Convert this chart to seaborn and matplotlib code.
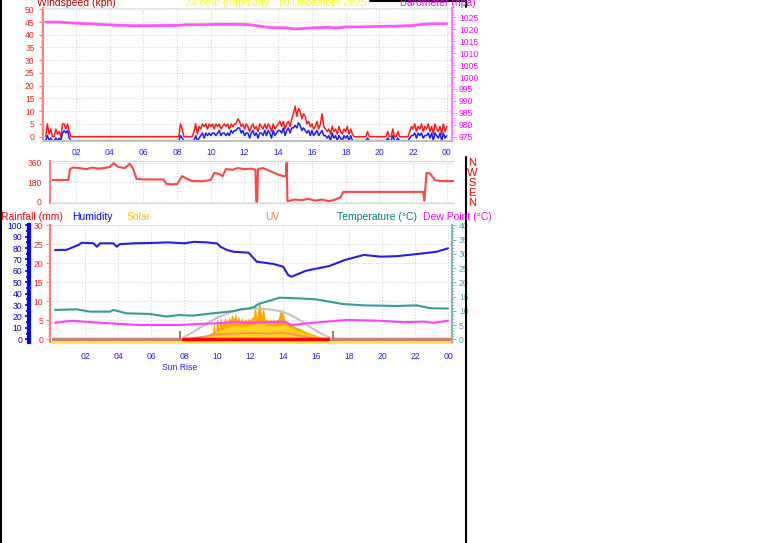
import matplotlib
matplotlib.use("Agg")
import matplotlib.pyplot as plt
import seaborn as sns
from matplotlib.lines import Line2D
from matplotlib.transforms import ScaledTranslation

# ---------------- data (hours since midnight) ----------------
wind_hours = ([round(0.2 + 0.1 * i, 1) for i in range(16)] + [1.8, 8.1]
              + [round(8.2 + 0.1 * i, 1) for i in range(159)])
gust_kph = [
    0, 5, 1, 3, 0, 0, 3, 1, 2, 0, 5, 5, 3, 5, 2, 0,          # 0.2 - 1.7
    0, 0,                                                    # calm
    5, 3, 0, 0, 0, 0, 0, 0, 2, 5, 1, 4, 3, 5, 4, 5, 3, 5,    # 8.2 - 9.9
    4, 5, 3, 5, 4, 5, 3, 4, 5, 4,
    5, 3, 5, 4, 5, 5, 7, 6, 4, 5,
    3, 5, 4, 2, 4, 5, 3, 4, 2, 5,
    4, 3, 5, 3, 5, 4, 2, 5, 3, 4,
    5, 6, 4, 6, 3, 5, 6, 4, 7, 9,
    12, 8, 11, 10, 7, 9, 8, 5, 6, 4,
    5, 3, 4, 6, 3, 5, 9, 4, 3, 2,
    3, 1, 4, 2, 3, 1, 4, 2, 1, 3,
    2, 4, 1, 3, 1, 0, 0, 0, 0, 0,
    0, 0, 0, 2, 0, 0, 0, 0, 0, 0,
    0, 0, 0, 0, 0, 2, 0, 0, 3, 0,
    0, 2, 0, 0, 0, 0, 0, 0, 2, 4,
    3, 5, 2, 4, 3, 5, 2, 4, 3, 5,
    2, 4, 1, 5, 3, 2, 4, 1, 5, 2, 4,
]
avg_kph = [
    0, 2, 0, 1, 0, 0, 1, 0, 1, 0, 3, 4, 3, 4, 1, 0,
    0, 0,
    2, 1, 0, 0, 0, 0, 0, 0, 0, 2, 0, 1, 2, 3, 1, 3, 2, 3,
    2, 3, 3, 2, 3, 4, 2, 3, 3, 2,
    3, 2, 4, 3, 4, 4, 5, 5, 3, 4,
    2, 3, 3, 1, 3, 4, 2, 3, 1, 3,
    3, 2, 4, 2, 4, 3, 1, 4, 2, 3,
    4, 4, 3, 5, 2, 4, 5, 3, 5, 5,
    6, 5, 7, 6, 4, 5, 4, 3, 4, 2,
    4, 2, 3, 4, 2, 3, 4, 2, 2, 1,
    2, 0, 3, 1, 2, 0, 2, 1, 0, 2,
    1, 2, 0, 2, 0, 0, 0, 0, 0, 0,
    0, 0, 0, 1, 0, 0, 0, 0, 0, 0,
    0, 0, 0, 0, 0, 1, 0, 0, 2, 0,
    0, 1, 0, 0, 0, 0, 0, 0, 1, 2,
    2, 3, 1, 3, 2, 3, 1, 2, 2, 3,
    1, 3, 0, 3, 2, 1, 3, 0, 3, 1, 2,
]

baro_hours = [0.2, 1.0, 1.8, 3.0, 4.4, 5.5, 8.0, 8.5, 9.5, 10.5, 11.5, 12.3, 13.0, 13.5,
              14.5, 15.0, 15.5, 16.0, 17.0, 17.5, 18.0, 19.0, 20.0, 21.0, 22.0, 22.5, 23.0, 24.0]
baro_hpa = [1023.0, 1023.0, 1022.6, 1022.2, 1021.7, 1021.5, 1021.6, 1021.9, 1021.9, 1022.1,
            1022.1, 1021.9, 1021.2, 1020.7, 1020.6, 1020.1, 1020.3, 1020.6, 1020.8, 1020.5,
            1021.0, 1021.0, 1021.2, 1021.3, 1021.6, 1022.0, 1022.3, 1022.3]

dir_hours = [0.63, 1.55, 1.65, 1.8, 2.2, 2.6, 3.0, 3.3, 3.7, 4.0, 4.25, 4.5, 4.9, 5.2, 5.4,
             5.6, 6.0, 7.2, 7.35, 7.6, 8.0, 8.3, 8.6, 8.9, 9.5, 10.0, 10.2, 10.5, 10.7, 10.9,
             11.3, 11.6, 12.0, 12.4, 12.65, 12.7, 12.75, 12.8, 13.1, 13.4, 13.7, 14.0, 14.3,
             14.45, 14.5, 14.55, 15.0, 15.4, 15.8, 16.2, 16.6, 17.0, 17.3, 17.7, 17.86, 18.5,
             20.0, 22.6, 22.67, 22.8, 23.0, 23.3, 23.6, 24.4]
dir_deg = [200, 200, 300, 315, 310, 300, 315, 305, 310, 320, 355, 320, 310, 350, 300,
           210, 205, 205, 165, 160, 162, 235, 210, 190, 188, 200, 265, 255, 235, 300,
           295, 310, 300, 305, 295, 0, 0, 300, 310, 290, 270, 250, 235,
           235, 360, 5, 20, 15, 25, 10, 20, 5, 15, 40, 90, 90,
           90, 90, 10, 265, 260, 200, 190, 190]

hum_hours = [0.16, 0.87, 1.58, 1.78, 2.5, 2.7, 2.9, 3.7, 3.9, 4.1, 5.0, 6.0, 7.0, 8.0, 8.6,
             9.4, 10.0, 10.2, 10.6, 11.0, 11.9, 12.4, 13.4, 14.0, 14.3, 14.5, 15.4, 16.8,
             17.75, 18.9, 19.9, 20.9, 22.5, 23.3, 24.0]
hum_pct = [78.3, 78.5, 82.7, 84.7, 84.2, 81.2, 84.2, 84.2, 81.2, 83.5, 84.2, 84.5, 85, 84.2,
           85.5, 85, 84, 81.2, 78.3, 76.8, 76, 68.1, 66.1, 63.7, 56.4, 54.9, 60.2, 64.3,
           69.6, 74, 72.5, 72.9, 75.4, 76.8, 79.8]

temp_hours = [0.16, 1.5, 2.3, 3.5, 3.7, 4.5, 5.9, 6.9, 7.7, 8.5, 9.4, 10.2, 11.0, 11.4, 12.0,
              12.3, 12.5, 13.8, 14.8, 16.0, 16.8, 17.6, 18.9, 20.9, 22.1, 22.9, 24.0]
temp_c = [10.3, 10.5, 9.7, 9.7, 10.3, 9.1, 8.9, 8.0, 8.5, 8.3, 8.9, 9.4, 9.9, 10.5, 10.9,
          11.5, 12.4, 14.6, 14.4, 14.0, 13.2, 12.4, 11.9, 11.7, 11.9, 10.9, 10.8]

dew_hours = [0.16, 1.2, 2.9, 4.1, 5.3, 7.7, 8.9, 9.9, 11.0, 12.2, 13.8, 14.2, 14.5, 15.8,
             17.9, 19.9, 21.3, 22.5, 23.1, 24.0]
dew_c = [5.8, 6.5, 5.8, 5.4, 5.0, 5.0, 5.4, 5.6, 6.0, 5.8, 6.2, 6.0, 5.0, 5.8,
         6.8, 6.5, 6.0, 6.2, 5.8, 6.5]

rain_hours = [0.0, 24.3]
rain_mm = [0, 0]

solar_hours = [7.9, 8.3, 8.6, 9.0, 9.3, 9.5, 9.7, 9.8, 9.9, 10.0, 10.1, 10.2, 10.3, 10.4,
               10.5, 10.6, 10.7, 10.8, 10.9, 11.0, 11.1, 11.2, 11.3, 11.4, 11.5, 11.6, 11.7,
               11.8, 11.9, 12.0, 12.1, 12.2, 12.3, 12.4, 12.5, 12.6, 12.7, 12.8, 12.9, 13.0,
               13.1, 13.2, 13.3, 13.4, 13.5, 13.6, 13.7, 13.8, 13.9, 14.0, 14.1, 14.2, 14.5,
               15.0, 15.4, 15.8, 16.2, 16.6, 16.7]
solar_max = [0, 5, 12, 25, 35, 45, 60, 150, 60, 200, 90, 210, 120, 160,
             190, 130, 200, 170, 220, 180, 230, 170, 200, 160, 190, 150, 180,
             160, 185, 170, 190, 200, 330, 180, 320, 310, 200, 300, 170, 180,
             150, 175, 160, 180, 150, 170, 180, 240, 260, 230, 170, 150, 125,
             95, 67, 45, 23, 3, 0]
solar_mean_hours = [7.9, 8.5, 9.0, 9.5, 10.0, 10.5, 11.0, 11.5, 12.0, 12.5, 13.0, 13.5,
                    14.0, 14.5, 15.0, 15.5, 16.0, 16.5, 16.7]
solar_mean = [0, 8, 15, 30, 70, 100, 120, 115, 120, 150, 125, 115, 135, 100, 70, 45, 25, 5, 0]
clear_sky_hours = [7.75, 8.5, 9.0, 9.5, 10.0, 10.5, 11.0, 11.5, 12.0, 12.5, 13.0, 13.5,
                   14.0, 14.5, 15.0, 15.5, 16.0, 16.5, 17.0]
clear_sky = [0, 60, 105, 150, 190, 220, 245, 260, 268, 270, 265, 255, 240, 210, 170, 120,
             75, 35, 0]
uv_hours = [7.9, 8.5, 9.0, 9.5, 10.0, 11.0, 12.0, 13.0, 14.0, 14.5, 15.0, 15.5, 16.0, 16.6]
uv_index = [0, 0.1, 0.2, 0.3, 0.45, 0.5, 0.55, 0.5, 0.55, 0.45, 0.3, 0.2, 0.1, 0]
sun_hours = [7.74, 17.0]   # sunrise, sunset

hour_ticks = list(range(2, 25, 2))
hour_labels = [f"{h % 24:02d}" for h in hour_ticks]

# ---------------- figure ----------------
W, H = 761, 543
sns.set_style("white")
plt.rcParams["font.family"] = ["Liberation Sans", "DejaVu Sans"]
fig = plt.figure(figsize=(W / 100, H / 100), dpi=100)
fig.patch.set_facecolor("white")


def rect(l, t, r, b):
    return [l / W, 1 - b / H, (r - l) / W, (b - t) / H]


TS = 6.2
grid_kw = dict(color="#d4d4d4", linestyle=":", linewidth=0.8)


def hide(ax, names):
    for n in names:
        ax.spines[n].set_visible(False)


# ---- panel 1: wind speed and barometer ----
ax1 = fig.add_axes(rect(43, 8, 452, 141))
ax1b = ax1.twinx()
sns.lineplot(x=wind_hours, y=gust_kph, ax=ax1, color="#ff1a1a", linewidth=1.1,
             sort=False, estimator=None)
sns.lineplot(x=wind_hours, y=avg_kph, ax=ax1, color="#1a1aff", linewidth=1.1,
             sort=False, estimator=None)
ax1.lines[-1].set_transform(ax1.transData + ScaledTranslation(0, -4 / 100, fig.dpi_scale_trans))
sns.lineplot(x=baro_hours, y=baro_hpa, ax=ax1b, color="#ff55ff", linewidth=2,
             sort=False, estimator=None)

ax1.set_xlim(0.04, 24.31)
ax1.set_ylim(-1.7, 50.5)
ax1b.set_ylim(973.2, 1028.9)
ax1.set_xticks(hour_ticks, hour_labels)
ax1.set_xticks([h / 2 for h in range(1, 49)], minor=True)
ax1.tick_params(axis="x", which="both", color="#b0b0b0", labelcolor="#2020ff",
                labelsize=TS, length=3, pad=2)
ax1.tick_params(axis="x", which="minor", length=1.5)
ax1.set_yticks(range(0, 51, 5))
ax1.set_yticks(range(0, 51), minor=True)
ax1.tick_params(axis="y", which="both", color="#ff8080", labelcolor="#ff2020",
                labelsize=TS, length=3, width=1, pad=3)
ax1.tick_params(axis="y", which="minor", length=1.5)
ax1b.set_yticks(range(975, 1026, 5))
ax1b.set_yticks(range(974, 1029), minor=True)
ax1b.tick_params(axis="y", which="both", color="#ff80ff", labelcolor="#ff00ff",
                 labelsize=TS, length=3, pad=2)
ax1b.tick_params(axis="y", which="minor", length=1.5)
ax1.grid(True, which="major", **grid_kw)
ax1.set_axisbelow(True)
ax1.spines["left"].set_color("#ff8080")
ax1.spines["left"].set_linewidth(1.5)
ax1.spines["bottom"].set_color("#c0c0c0")
ax1.spines["bottom"].set_linewidth(1.5)
ax1.spines["top"].set_color("#e4e4e4")
hide(ax1, ["right"])
hide(ax1b, ["left", "top", "bottom"])
ax1b.spines["right"].set_color("#ff80ff")
ax1b.spines["right"].set_linewidth(1.5)
for a in (ax1, ax1b):
    a.set_xlabel("")
    a.set_ylabel("")

# ---- panel 2: wind direction ----
ax2 = fig.add_axes(rect(50, 161, 454, 203))
sns.lineplot(x=dir_hours, y=dir_deg, ax=ax2, color="#ff4545", linewidth=1.5,
             sort=False, estimator=None)
ax2.set_xlim(0.46, 24.43)
ax2.set_ylim(-12, 375)
ax2.set_xticks(hour_ticks)
ax2.set_xticklabels([])
ax2.tick_params(axis="x", length=0)
ax2.set_yticks([0, 180, 360])
ax2.set_yticks(range(0, 361, 30), minor=True)
ax2.tick_params(axis="y", which="both", color="#ff8080", labelcolor="#ff2020",
                labelsize=TS, length=3, pad=3)
ax2.tick_params(axis="y", which="minor", length=1.5)
ax2.grid(True, which="major", **grid_kw)
ax2.set_axisbelow(True)
ax2.spines["left"].set_color("#ff8080")
ax2.spines["left"].set_linewidth(1.5)
for n in ("top", "bottom"):
    ax2.spines[n].set_color("#d8d8d8")
hide(ax2, ["right"])
ax2.set_xlabel("")
ax2.set_ylabel("")

for i, ch in enumerate("NWSEN"):
    fig.text(472 / W, 1 - (162.5 + 10 * i) / H, ch, color="#ff0000", fontsize=8,
             ha="center", va="center")

# ---- panel 3: rain / humidity / solar / UV / temperature / dew point ----
ax3 = fig.add_axes(rect(52, 225, 452, 342))
axs = ax3.twinx()
axu = ax3.twinx()
axh = ax3.twinx()
axt = ax3.twinx()
for a in (axs, axu):
    a.set_axis_off()

axs.fill_between(solar_hours, solar_max, color="#ffa800", linewidth=0)
axs.fill_between(solar_mean_hours, solar_mean, color="#ffd21f", linewidth=0)
sns.lineplot(x=clear_sky_hours, y=clear_sky, ax=axs, color="#c4c4c4", linewidth=1.5,
             sort=False, estimator=None)
axs.vlines(sun_hours, -15, 75, color="#a88060", linewidth=1.5)
sns.lineplot(x=uv_hours, y=uv_index, ax=axu, color="#ff8a60", linewidth=1.2,
             sort=False, estimator=None)

sns.lineplot(x=rain_hours, y=rain_mm, ax=ax3, color="#c88070", linewidth=2.5,
             sort=False, estimator=None)
sns.lineplot(x=[solar_hours[0], solar_hours[-1]], y=rain_mm, ax=axu, color="#ff0000",
             linewidth=2.5, sort=False, estimator=None)
sns.lineplot(x=hum_hours, y=hum_pct, ax=axh, color="#2020e8", linewidth=1.5,
             sort=False, estimator=None)
sns.lineplot(x=temp_hours, y=temp_c, ax=axt, color="#30a090", linewidth=1.5,
             sort=False, estimator=None)
sns.lineplot(x=dew_hours, y=dew_c, ax=axt, color="#ff40ff", linewidth=1.5,
             sort=False, estimator=None)

ax3.set_xlim(-0.02, 24.24)
ax3.set_ylim(-0.71, 30.08)
axs.set_ylim(-24, 1003)
axu.set_ylim(-0.24, 10.03)
axh.set_ylim(-2.37, 100.26)
axt.set_ylim(-0.95, 40.1)

ax3.set_xticks(hour_ticks, hour_labels)
ax3.set_xticks(range(1, 25), minor=True)
ax3.tick_params(axis="x", which="both", color="#b0b0b0", labelcolor="#2020ff",
                labelsize=TS, length=3, pad=4)
ax3.tick_params(axis="x", which="minor", length=1.5)
# sunrise caption under the sunrise marker, nudged just below the hour labels
ax3.text(sun_hours[0], -0.215, "Sun Rise", transform=ax3.get_xaxis_transform(),
         color="#2020ff", fontsize=TS, ha="center", va="center")

ax3.set_yticks(range(0, 31, 5))
ax3.set_yticks(range(0, 31), minor=True)
ax3.tick_params(axis="y", which="both", color="#ff8080", labelcolor="#ff2020",
                labelsize=TS, length=3, pad=2)
ax3.tick_params(axis="y", which="minor", length=1.5)
ax3.spines["left"].set_position(("outward", 1.4))
ax3.spines["left"].set_color("#ff8080")
ax3.spines["left"].set_linewidth(1.5)
ax3.spines["top"].set_color("#e0e0e0")
ax3.spines["bottom"].set_color("#ffe050")
ax3.spines["bottom"].set_linewidth(2)
hide(ax3, ["right"])
ax3.grid(True, which="major", **grid_kw)
ax3.set_axisbelow(True)

axh.yaxis.tick_left()
axh.spines["left"].set_position(("outward", 16.5))
axh.spines["left"].set_visible(True)
axh.spines["left"].set_color("#0000ff")
axh.spines["left"].set_linewidth(3)
hide(axh, ["right", "top", "bottom"])
axh.set_yticks(range(0, 101, 10))
axh.set_yticks(range(0, 101, 5), minor=True)
axh.tick_params(axis="y", which="both", color="#0000ff", labelcolor="#0000cc",
                labelsize=TS, length=3, width=1.2, pad=2)
axh.tick_params(axis="y", which="minor", length=2)

hide(axt, ["left", "top", "bottom"])
axt.spines["right"].set_color("#80b8b8")
axt.spines["right"].set_linewidth(1.5)
axt.set_yticks(range(0, 41, 5))
axt.set_yticks(range(0, 41), minor=True)
axt.tick_params(axis="y", which="both", color="#80b8b8", labelcolor="#50a0a0",
                labelsize=TS, length=3, pad=2)
axt.tick_params(axis="y", which="minor", length=1.5)

for a in (ax3, axs, axu, axh, axt):
    a.set_xlabel("")
    a.set_ylabel("")

# ---- captions ----
def cap(x, y, s, color, size=7.5):
    fig.text(x / W, 1 - y / H, s, color=color, fontsize=size, ha="left", va="baseline")


cap(37, 6.5, "Windspeed (kph)", "#b00000")
cap(185, 6.5, "24 hour graph day : 10 December 2025", "#ffff00")
cap(400, 6.5, "Barometer (hpa)", "#ff00ff")
cap(1, 220, "Rainfall (mm)", "#ff0000")
cap(72, 220, "Humidity", "#0000ff")
cap(127, 220, "Solar", "#ffc000")
cap(265, 220, "UV", "#ff8040")
cap(337, 220, "Temperature (°C)", "#008080")
cap(423, 220, "Dew Point (°C)", "#ff00ff")

# ---- black frame pieces ----
frame = dict(color="black", linewidth=1.5, transform=fig.transFigure)
fig.add_artist(Line2D([0.8 / W, 0.8 / W], [0, 1], **frame))
fig.add_artist(Line2D([465.5 / W, 465.5 / W], [0, 1 - 157 / H], **frame))
fig.add_artist(Line2D([465.5 / W, 465.5 / W], [1 - 7 / H, 1], **frame))
fig.add_artist(Line2D([370 / W, 466 / W], [1 - 0.5 / H, 1 - 0.5 / H], **frame))

fig.savefig("out.png", dpi=100)
